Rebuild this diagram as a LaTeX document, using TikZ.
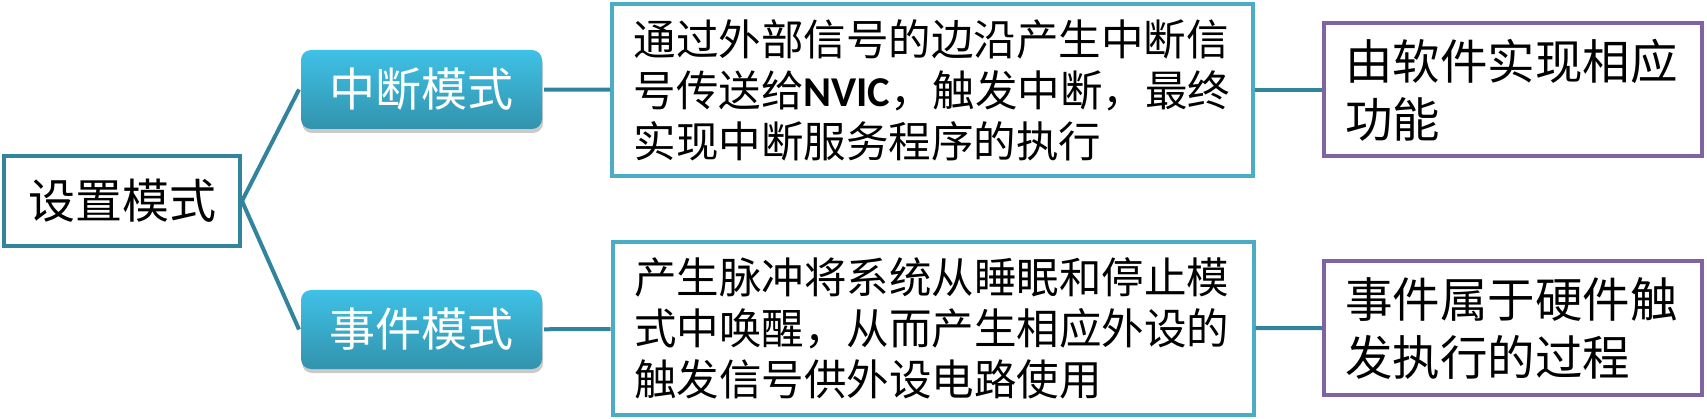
\documentclass[tikz,border=0pt]{standalone}
\usepackage{fontspec}
\newfontfamily\cjk{Noto Sans CJK SC}
\newfontfamily\nvic{Carlito}
\usetikzlibrary{shadows}
\definecolor{setteal}{HTML}{31849B}
\definecolor{descblue}{HTML}{4BACC6}
\definecolor{funcpurple}{HTML}{8064A2}
\definecolor{modetop}{HTML}{3FC1E6}
\definecolor{modebot}{HTML}{3293AD}

\begin{document}
\begin{tikzpicture}[x=1pt, y=-1pt, line width=4pt,
		main/.style = {draw, rectangle, inner sep=0pt, font=\cjk},
		mode/.style = {rectangle, rounded corners=10pt, top color=modetop, bottom color=modebot, text=white, minimum width=241pt, minimum height=79pt, inner sep=0pt, font=\cjk\fontsize{46}{55}\selectfont, drop shadow={shadow xshift=1pt, shadow yshift=-4pt, opacity=0.35, fill=black!60}},
		desc/.style = {main, draw=descblue, minimum width=641pt, minimum height=172pt, text width=598pt, align=left, font=\cjk\fontsize{42.5}{51}\selectfont},
		func/.style = {main, draw=funcpurple, minimum width=378pt, minimum height=133pt, text width=336pt, align=left, font=\cjk\fontsize{47.5}{58}\selectfont}]
		\useasboundingbox (0,0) rectangle (1707,419);
		\node[main, draw=setteal, minimum width=236pt, minimum height=90pt, font=\cjk\fontsize{47}{56}\selectfont] (1) at (122,201) {设置模式};
		\node[mode] (2) at (421.5,89.5) {中断模式};
		\node[mode] (3) at (421.5,329.5) {事件模式};
		\node[desc] (4) at (932.5,90) {通过外部信号的边沿产生中断信\\号传送给{\nvic\bfseries NVIC}，触发中断，最终\\实现中断服务程序的执行};
		\node[desc] (5) at (933,328.5) {产生脉冲将系统从睡眠和停止模\\式中唤醒，从而产生相应外设的\\触发信号供外设电路使用};
		\node[func] (6) at (1513,90) {由软件实现相应\\功能};
		\node[func, minimum height=134pt] (7) at (1513,328) {事件属于硬件触\\发执行的过程};
		
		\draw[setteal] (1.east) -- (2.west);
		\draw[setteal] (1.east) -- (3.west);
		\draw[setteal] (2) -- (4);
		\draw[setteal] (3) -- (5);
		\draw[setteal] (4) -- (6);
		\draw[setteal] (5) -- (7);
	\end{tikzpicture}
\end{document}
